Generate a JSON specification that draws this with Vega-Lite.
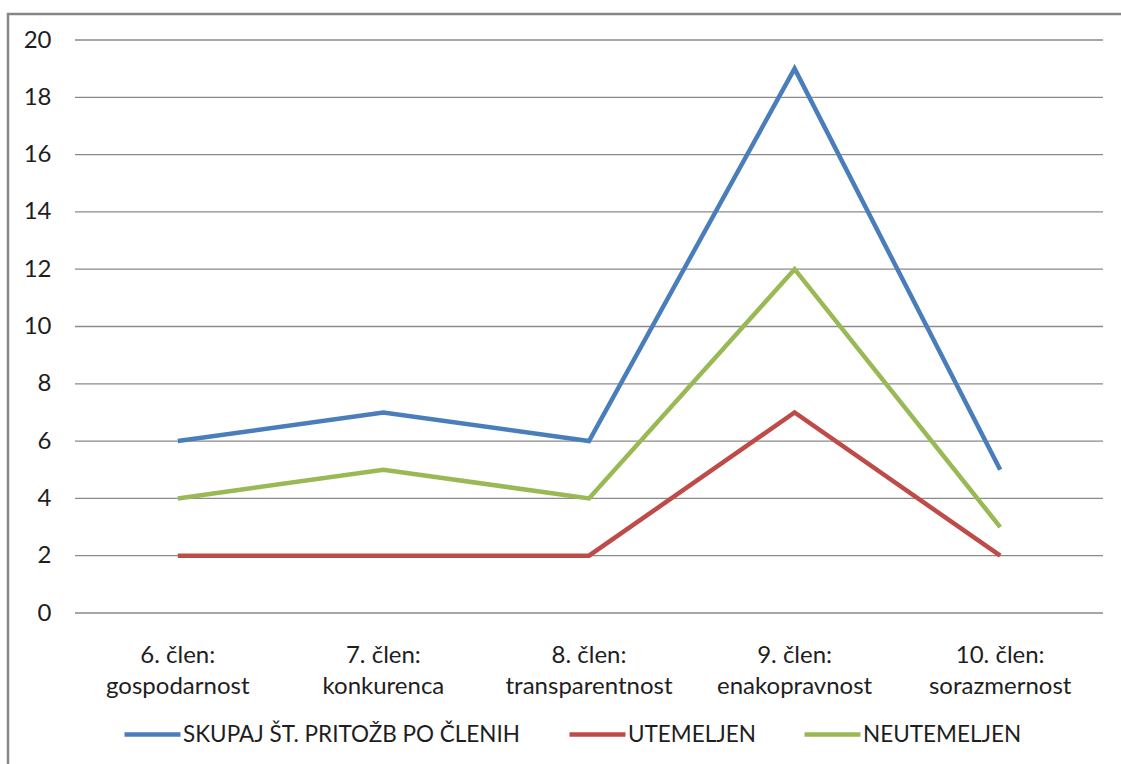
{
  "$schema": "https://vega.github.io/schema/vega-lite/v6.json",
  "width": 1118,
  "height": 755,
  "autosize": {"type": "none"},
  "padding": {"left": 8, "top": 14, "right": 0, "bottom": 0},
  "background": "white",
  "config": {
    "view": {"stroke": "#878787", "strokeWidth": 2.5},
    "font": "Lato",
    "axisX": {
      "title": null,
      "domain": false,
      "ticks": false,
      "grid": false,
      "labelPadding": 0,
      "offset": -107,
      "labelAngle": 0,
      "labelBaseline": "alphabetic",
      "labelLineHeight": 31,
      "labelFontSize": 24,
      "labelColor": "#1e1e1e",
      "labelOverlap": false,
      "labelLimit": 0
    }
  },
  "datasets": {
    "mreza": [
      {"v": 0}, {"v": 2}, {"v": 4}, {"v": 6}, {"v": 8}, {"v": 10},
      {"v": 12}, {"v": 14}, {"v": 16}, {"v": 18}, {"v": 20}
    ],
    "pritozbe": [
      {"clen": "6. člen: gospodarnost", "serija": "SKUPAJ ŠT. PRITOŽB PO ČLENIH", "v": 6},
      {"clen": "7. člen: konkurenca", "serija": "SKUPAJ ŠT. PRITOŽB PO ČLENIH", "v": 7},
      {"clen": "8. člen: transparentnost", "serija": "SKUPAJ ŠT. PRITOŽB PO ČLENIH", "v": 6},
      {"clen": "9. člen: enakopravnost", "serija": "SKUPAJ ŠT. PRITOŽB PO ČLENIH", "v": 19},
      {"clen": "10. člen: sorazmernost", "serija": "SKUPAJ ŠT. PRITOŽB PO ČLENIH", "v": 5},
      {"clen": "6. člen: gospodarnost", "serija": "UTEMELJEN", "v": 2},
      {"clen": "7. člen: konkurenca", "serija": "UTEMELJEN", "v": 2},
      {"clen": "8. člen: transparentnost", "serija": "UTEMELJEN", "v": 2},
      {"clen": "9. člen: enakopravnost", "serija": "UTEMELJEN", "v": 7},
      {"clen": "10. člen: sorazmernost", "serija": "UTEMELJEN", "v": 2},
      {"clen": "6. člen: gospodarnost", "serija": "NEUTEMELJEN", "v": 4},
      {"clen": "7. člen: konkurenca", "serija": "NEUTEMELJEN", "v": 5},
      {"clen": "8. člen: transparentnost", "serija": "NEUTEMELJEN", "v": 4},
      {"clen": "9. člen: enakopravnost", "serija": "NEUTEMELJEN", "v": 12},
      {"clen": "10. člen: sorazmernost", "serija": "NEUTEMELJEN", "v": 3}
    ]
  },
  "encoding": {
    "y": {
      "field": "v",
      "type": "quantitative",
      "scale": {"domain": [0, 20], "range": [599, 26], "nice": false, "zero": true},
      "axis": {
        "title": null,
        "values": [0, 2, 4, 6, 8, 10, 12, 14, 16, 18, 20],
        "grid": false,
        "domain": false,
        "ticks": false,
        "labelPadding": 0,
        "offset": -43,
        "labelFontSize": 24,
        "labelColor": "#1e1e1e"
      }
    }
  },
  "layer": [
    {
      "data": {"name": "mreza"},
      "mark": {"type": "rule", "color": "#8a8a8a", "strokeWidth": 1.3},
      "encoding": {
        "x": {
          "datum": "6. člen: gospodarnost",
          "type": "nominal",
          "bandPosition": 0
        },
        "x2": {"datum": "10. člen: sorazmernost", "bandPosition": 1}
      }
    },
    {
      "data": {"name": "pritozbe"},
      "mark": {"type": "line", "strokeWidth": 4.5},
      "encoding": {
        "x": {
          "field": "clen",
          "type": "nominal",
          "bandPosition": 0.5,
          "scale": {
            "type": "band",
            "domain": [
              "6. člen: gospodarnost",
              "7. člen: konkurenca",
              "8. člen: transparentnost",
              "9. člen: enakopravnost",
              "10. člen: sorazmernost"
            ],
            "range": [67, 1095],
            "paddingInner": 0,
            "paddingOuter": 0
          },
          "axis": {
            "labelExpr": "[split(datum.label, ': ')[0] + ':', split(datum.label, ': ')[1]]"
          }
        },
        "color": {
          "field": "serija",
          "type": "nominal",
          "scale": {
            "domain": ["SKUPAJ ŠT. PRITOŽB PO ČLENIH", "UTEMELJEN", "NEUTEMELJEN"],
            "range": ["#4a7ebb", "#be4b48", "#98b954"]
          },
          "legend": {
            "title": null,
            "orient": "none",
            "legendX": 114,
            "legendY": 690,
            "direction": "horizontal",
            "symbolType": "stroke",
            "symbolSize": 3136,
            "symbolStrokeWidth": 4.5,
            "labelFontSize": 22.5,
            "labelColor": "#1e1e1e",
            "labelOffset": 0,
            "columnPadding": 39,
            "labelLimit": 0
          }
        }
      }
    }
  ]
}
